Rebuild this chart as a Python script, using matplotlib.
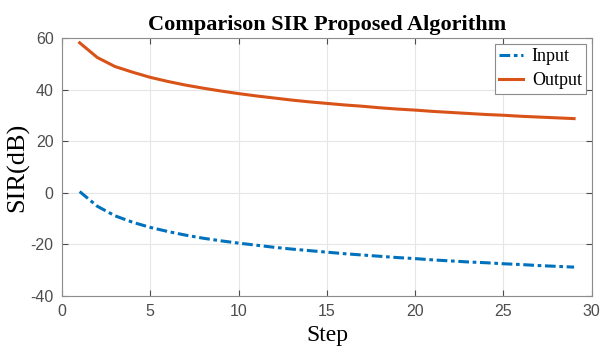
import numpy as np
import matplotlib.pyplot as plt

plt.rcParams['axes.unicode_minus'] = False

steps = list(range(1, 30))
sir_input = [0.5, -5.2, -8.9, -11.4, -13.4, -15.0, -16.4, -17.6, -18.6, -19.5,
             -20.3, -21.1, -21.8, -22.4, -23.0, -23.6, -24.1, -24.6, -25.1, -25.5,
             -26.0, -26.4, -26.8, -27.1, -27.5, -27.8, -28.2, -28.5, -28.8]
sir_output = [58.2, 52.5, 49.0, 46.8, 44.8, 43.2, 41.8, 40.6, 39.5, 38.5,
              37.6, 36.8, 36.0, 35.3, 34.7, 34.1, 33.6, 33.0, 32.5, 32.1,
              31.6, 31.2, 30.8, 30.4, 30.1, 29.7, 29.4, 29.1, 28.8]

xticks = [0, 5, 10, 15, 20, 25, 30]
yticks = [-40, -20, 0, 20, 40, 60]

serif = 'Liberation Serif'
tick_color = '#4d4d4d'

fig = plt.figure(figsize=(6.02, 3.47), dpi=100)
ax = fig.add_axes([0.103, 0.147, 0.880, 0.743])

ax.plot(steps, sir_input, color='#0072BD', linestyle=(0, (3.5, 1.2, 1.2, 1.2)),
        linewidth=2.2, label='Input')
ax.plot(steps, sir_output, color='#D95319', linestyle='-', linewidth=2.2,
        label='Output')

ax.set_xlim(0, 30)
ax.set_ylim(-40, 60)
ax.set_xticks(xticks)
ax.set_yticks(yticks)
ax.grid(True, color='#e6e6e6', linewidth=0.8)
ax.set_axisbelow(True)

ax.tick_params(direction='in', top=True, right=True, length=4, pad=6,
               colors=tick_color, labelsize=11.5, width=0.8)
for lab in ax.get_xticklabels() + ax.get_yticklabels():
    lab.set_family('Liberation Sans')
    lab.set_color(tick_color)
for s in ax.spines.values():
    s.set_color('#8c8c8c')
    s.set_linewidth(0.8)

ax.set_title('Comparison SIR Proposed Algorithm', family=serif,
             fontweight='bold', fontsize=16, pad=6)
ax.set_xlabel('Step', family=serif, fontsize=17, labelpad=4)
ax.set_ylabel('SIR(dB)', family=serif, fontsize=19, labelpad=1)

leg = ax.legend(loc='upper right', prop={'family': serif, 'size': 13},
                fancybox=False, framealpha=1, edgecolor='#8c8c8c',
                borderaxespad=0.3, handlelength=1.3, handletextpad=0.5,
                borderpad=0.25, labelspacing=0.4)
leg.get_frame().set_linewidth(0.8)

fig.savefig('out.png', dpi=100)
